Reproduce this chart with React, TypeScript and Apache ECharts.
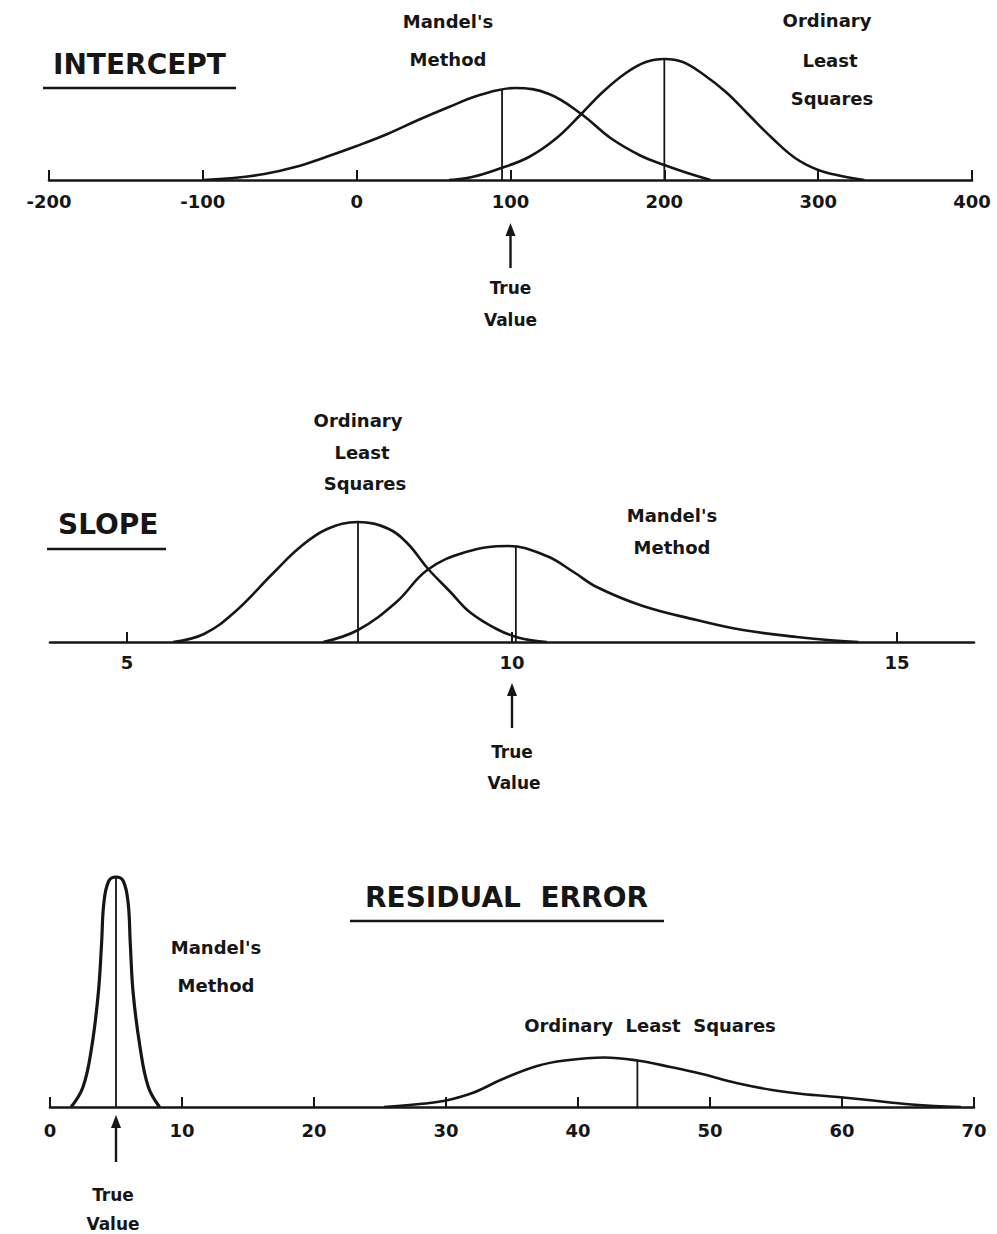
import React, { useEffect, useRef } from "react";
import * as echarts from "echarts";

// ---------- DATA ----------
// Intercept panel (x: estimated intercept, y: relative frequency height)
const interceptTicks = [-200, -100, 0, 100, 200, 300, 400];
const interceptMandel: [number, number][] = [
  [-100, 0], [-80, 2], [-60, 6], [-40, 13], [-20, 23], [0, 34], [20, 46], [40, 60],
  [60, 73], [80, 85], [103, 92], [125, 86], [146, 66], [165, 42], [185, 24],
  [200, 15], [215, 7], [230, 0],
];
const interceptOLS: [number, number][] = [
  [60, 0], [75, 3], [94, 12], [112, 23], [130, 42], [146, 66], [160, 88], [175, 107],
  [188, 118], [200, 121], [212, 118], [225, 106], [240, 88], [255, 65], [270, 42],
  [285, 22], [300, 10], [315, 4], [330, 0],
];
const interceptMandelCenter: [number, number] = [94.5, 91];
const interceptOLSCenter: [number, number] = [200, 121];
const interceptTrue = 100;

// Slope panel
const slopeTicks = [5, 10, 15];
const slopeOLS: [number, number][] = [
  [5.6, 0], [6.0, 8], [6.4, 30], [6.9, 69], [7.25, 95], [7.6, 113], [8.0, 120],
  [8.4, 113], [8.65, 98], [8.9, 74], [9.2, 50], [9.45, 30], [9.8, 13], [10.1, 4], [10.45, 0],
];
const slopeMandel: [number, number][] = [
  [7.55, 0], [8.0, 12], [8.5, 40], [8.9, 72], [9.4, 90], [9.95, 96],
  [10.45, 86], [10.8, 70], [11.1, 55], [11.7, 36], [12.4, 22], [13.0, 12], [13.7, 5],
  [14.1, 2], [14.5, 0],
];
const slopeOLSCenter: [number, number] = [8.0, 120];
const slopeMandelCenter: [number, number] = [10.05, 95];
const slopeTrue = 10;

// Residual error panel
const residualTicks = [0, 10, 20, 30, 40, 50, 60, 70];
const residualMandel: [number, number][] = [
  [1.6, 0], [2.5, 20], [3.16, 60], [3.66, 114], [3.91, 164], [4.08, 204], [4.45, 226],
  [5.0, 230], [5.55, 226], [5.92, 204], [6.08, 164], [6.3, 114], [6.82, 60], [7.45, 20], [8.3, 0],
];
const residualOLS: [number, number][] = [
  [25.3, 0], [28, 3], [29.8, 6], [32, 14], [34.3, 28], [36.9, 41], [39, 46.5], [42, 49.5],
  [44.5, 46.5], [47, 40], [49.4, 33], [52, 24], [54.7, 17], [57, 13], [59.7, 10],
  [62, 7], [64.8, 3], [67, 1], [69, 0],
];
const residualMandelCenter: [number, number] = [5.0, 230];
const residualOLSCenter: [number, number] = [44.5, 46.5];
const residualTrue = 5;

// ---------- STYLE ----------
const INK = "#161616";
const FONT = '"DejaVu Sans", sans-serif';

function curve(data: [number, number][], idx: number, width = 2.6) {
  return {
    type: "line",
    xAxisIndex: idx,
    yAxisIndex: idx,
    data,
    smooth: 0.4,
    symbol: "none",
    lineStyle: { color: INK, width },
    silent: true,
  };
}

function stem(c: [number, number], idx: number) {
  return {
    type: "line",
    xAxisIndex: idx,
    yAxisIndex: idx,
    data: [[c[0], 0], [c[0], c[1]]],
    symbol: "none",
    lineStyle: { color: INK, width: 1.8 },
    silent: true,
  };
}

function xAxis(idx: number, min: number, max: number, opts: any) {
  return {
    type: "value",
    gridIndex: idx,
    min,
    max,
    ...(opts.interval ? { interval: opts.interval } : {}),
    splitLine: { show: false },
    axisLine: { show: true, onZero: false, lineStyle: { color: INK, width: 2.6 } },
    axisTick: {
      show: true,
      inside: true,
      length: 10,
      lineStyle: { color: INK, width: 2 },
      ...(opts.custom ? { customValues: opts.custom } : {}),
    },
    axisLabel: {
      show: true,
      margin: opts.margin,
      color: INK,
      fontSize: 18,
      fontWeight: "bold",
      fontFamily: FONT,
      ...(opts.custom ? { customValues: opts.custom } : {}),
      formatter: (v: number) => String(v),
    },
  };
}

function yAxis(idx: number, max: number) {
  return {
    type: "value",
    gridIndex: idx,
    min: 0,
    max,
    show: false,
  };
}

function txt(text: string, x: number, y: number, size = 18, align = "center") {
  return {
    type: "text",
    silent: true,
    style: {
      text,
      x,
      y,
      fill: INK,
      font: `bold ${size}px ${FONT}`,
      align,
      verticalAlign: "middle",
      textAlign: align,
      textVerticalAlign: "middle",
    },
  };
}

function hline(x1: number, x2: number, y: number) {
  return {
    type: "line",
    silent: true,
    shape: { x1, y1: y, x2, y2: y },
    style: { stroke: INK, lineWidth: 2.6 },
  };
}

function arrow(x: number, tip: number, bottom: number) {
  return [
    {
      type: "line",
      silent: true,
      shape: { x1: x, y1: tip + 8, x2: x, y2: bottom },
      style: { stroke: INK, lineWidth: 2.4 },
    },
    {
      type: "polygon",
      silent: true,
      shape: { points: [[x, tip], [x - 5, tip + 13], [x + 5, tip + 13]] },
      style: { fill: INK },
    },
  ];
}

export default function App() {
  const ref = useRef<HTMLDivElement>(null);

  useEffect(() => {
    if (!ref.current) return;
    const chart = echarts.init(ref.current, undefined, { renderer: "svg" });

    const option: any = {
      animation: false,
      backgroundColor: "#ffffff",
      grid: [
        { left: 49, right: 25, top: 40, height: 140 },
        { left: 50, right: 23, top: 502, height: 140 },
        { left: 50, right: 23, top: 867, height: 240 },
      ],
      xAxis: [
        xAxis(0, interceptTicks[0], interceptTicks[interceptTicks.length - 1], { interval: 100, margin: 12 }),
        xAxis(1, 4, 16, { custom: slopeTicks, margin: 11 }),
        xAxis(2, residualTicks[0], residualTicks[residualTicks.length - 1], { interval: 10, margin: 14 }),
      ],
      yAxis: [yAxis(0, 140), yAxis(1, 140), yAxis(2, 240)],
      series: [
        curve(interceptMandel, 0),
        curve(interceptOLS, 0),
        stem(interceptMandelCenter, 0),
        stem(interceptOLSCenter, 0),
        curve(slopeOLS, 1),
        curve(slopeMandel, 1),
        stem(slopeOLSCenter, 1),
        stem(slopeMandelCenter, 1),
        curve(residualMandel, 2, 3.2),
        curve(residualOLS, 2),
        stem(residualMandelCenter, 2),
        stem(residualOLSCenter, 2),
      ],
    };
    chart.setOption(option);

    const ax0 = chart.convertToPixel({ xAxisIndex: 0 }, interceptTrue) as number;
    const ax1 = chart.convertToPixel({ xAxisIndex: 1 }, slopeTrue) as number;
    const ax2 = chart.convertToPixel({ xAxisIndex: 2 }, residualTrue) as number;

    const graphic: any[] = [
      // Intercept panel
      txt("INTERCEPT", 53, 64, 28, "left"),
      hline(43, 236, 88),
      txt("Mandel's", 448, 21),
      txt("Method", 448, 59),
      txt("Ordinary", 827, 20),
      txt("Least", 830, 60),
      txt("Squares", 832, 98),
      ...arrow(ax0, 223, 268),
      txt("True", ax0, 288, 17),
      txt("Value", ax0, 320, 17),
      // Slope panel
      txt("SLOPE", 58, 524, 28, "left"),
      hline(47, 166, 549),
      txt("Ordinary", 358, 420),
      txt("Least", 362, 452),
      txt("Squares", 365, 483),
      txt("Mandel's", 672, 515),
      txt("Method", 672, 547),
      ...arrow(ax1, 683, 728),
      txt("True", ax1, 752, 17),
      txt("Value", ax1 + 2, 783, 17),
      // Residual panel
      txt("RESIDUAL  ERROR", 365, 897, 28, "left"),
      hline(350, 664, 921),
      txt("Mandel's", 216, 947),
      txt("Method", 216, 985),
      txt("Ordinary  Least  Squares", 650, 1025),
      ...arrow(ax2, 1115, 1162),
      txt("True", ax2 - 3, 1195, 17),
      txt("Value", ax2 - 3, 1224, 17),
    ];
    chart.setOption({ graphic });

    return () => chart.dispose();
  }, []);

  return (
    <div
      ref={ref}
      style={{ position: "absolute", left: 0, top: 0, width: 997, height: 1234 }}
    />
  );
}
